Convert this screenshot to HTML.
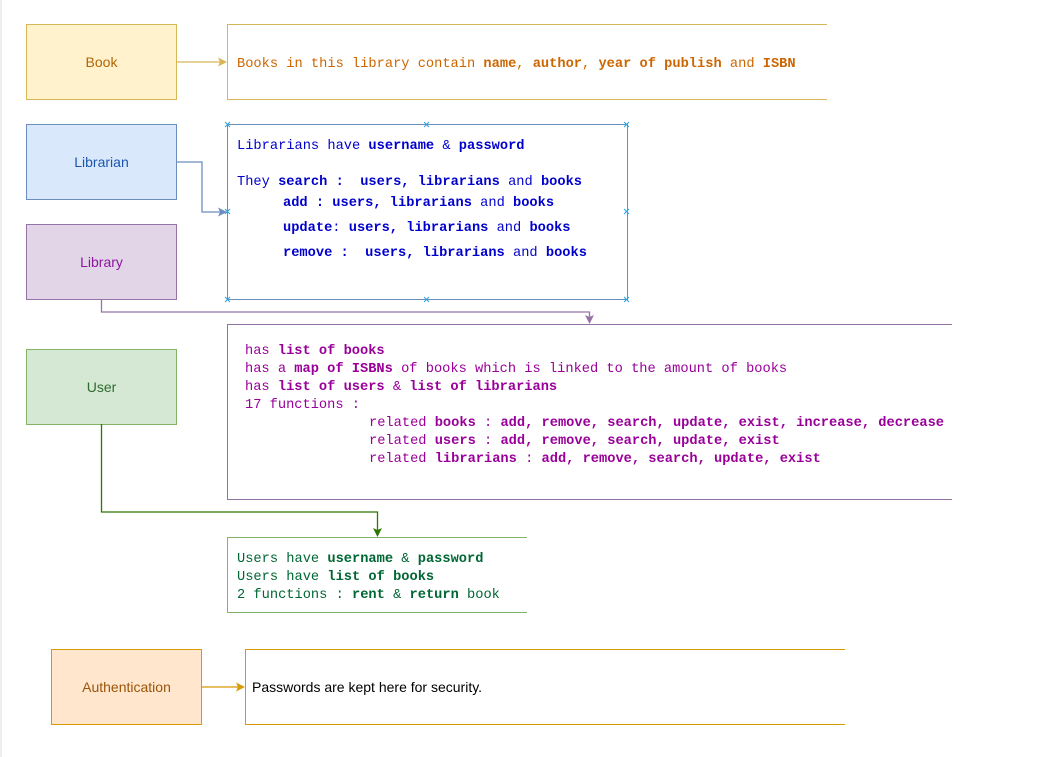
<!DOCTYPE html>
<html><head><meta charset="utf-8"><style>
html,body{margin:0;padding:0;background:#fff;}
svg{display:block}
.m{font-family:"Liberation Mono",monospace;font-size:13.7px;white-space:pre}
.b{font-weight:bold}
.s{font-family:"Liberation Sans",sans-serif;font-size:14px}
</style></head><body>
<svg width="1061" height="757" viewBox="0 0 1061 757" xmlns="http://www.w3.org/2000/svg" xml:space="preserve">
<line x1="1" y1="0" x2="1" y2="757" stroke="#dddddd" stroke-width="1"/>
<rect x="26.5" y="24.5" width="150" height="75" fill="#fff2cc" stroke="#d6b656"/>
<text x="101.5" y="67" text-anchor="middle" class="s" fill="#b46504">Book</text>
<rect x="26.5" y="124.5" width="150" height="75" fill="#dae8fc" stroke="#6c8ebf"/>
<text x="101.5" y="167" text-anchor="middle" class="s" fill="#1a56b0">Librarian</text>
<rect x="26.5" y="224.5" width="150" height="75" fill="#e1d5e7" stroke="#9673a6"/>
<text x="101.5" y="267" text-anchor="middle" class="s" fill="#8a1a9a">Library</text>
<rect x="26.5" y="349.5" width="150" height="75" fill="#d5e8d4" stroke="#82b366"/>
<text x="101.5" y="392" text-anchor="middle" class="s" fill="#2d6b2d">User</text>
<rect x="51.5" y="649.5" width="150" height="75" fill="#ffe6cc" stroke="#d79b00"/>
<text x="126.5" y="692" text-anchor="middle" class="s" fill="#99550a">Authentication</text>

<path d="M827 24.5 H227.5 V99.5 H827" fill="none" stroke="#d6b656"/>
<rect x="227.5" y="124.5" width="400" height="175" fill="none" stroke="#6c8ebf"/>
<path d="M952 324.5 H227.5 V499.5 H952" fill="none" stroke="#9673a6"/>
<path d="M527 537.5 H227.5 V612.5 H527" fill="none" stroke="#82b366"/>
<path d="M845 649.5 H245.5 V724.5 H845" fill="none" stroke="#d79b00"/>

<g stroke="#29a3e0" stroke-width="1">
<path d="M225 122l5 5M230 122l-5 5M424 122l5 5M429 122l-5 5M624 122l5 5M629 122l-5 5
M225 297l5 5M230 297l-5 5M424 297l5 5M429 297l-5 5M624 297l5 5M629 297l-5 5
M225 209l5 5M230 209l-5 5M624 209l5 5M629 209l-5 5"/>
</g>

<g fill="none" stroke-width="1.3">
<path d="M177 62 H220" stroke="#d6b656"/>
<path d="M177 162 H202 V212 H220" stroke="#6c8ebf"/>
<path d="M101.5 299 V312 H589.5 V317" stroke="#9673a6"/>
<path d="M101.5 424 V512 H377.5 V530" stroke="#2d7600"/>
<path d="M202 687 H238" stroke="#d79b00"/>
</g>
<path d="M227 62 l-9 -4.5 l2 4.5 l-2 4.5z" fill="#d6b656"/>
<path d="M227 212 l-9 -4.5 l2 4.5 l-2 4.5z" fill="#6c8ebf"/>
<path d="M589.5 324 l-4.5 -9 l4.5 2 l4.5 -2z" fill="#9673a6"/>
<path d="M377.5 537 l-4.5 -9 l4.5 2 l4.5 -2z" fill="#2d7600"/>
<path d="M245 687 l-9 -4.5 l2 4.5 l-2 4.5z" fill="#d79b00"/>

<text x="237" y="67" class="m" fill="#cc6600">Books in this library contain <tspan class="b">name</tspan>, <tspan class="b">author</tspan>, <tspan class="b">year of publish</tspan> and <tspan class="b">ISBN</tspan></text>

<g class="m" fill="#0000cc">
<text x="237" y="149">Librarians have <tspan class="b">username</tspan> &amp; <tspan class="b">password</tspan></text>
<text x="237" y="185">They <tspan class="b">search :&#160; users, librarians</tspan> and <tspan class="b">books</tspan></text>
<text x="283" y="206"><tspan class="b">add : users, librarians</tspan> and <tspan class="b">books</tspan></text>
<text x="283" y="231"><tspan class="b">update</tspan>: <tspan class="b">users, librarians</tspan> and <tspan class="b">books</tspan></text>
<text x="283" y="256"><tspan class="b">remove :&#160; users, librarians</tspan> and <tspan class="b">books</tspan></text>
</g>

<g class="m" fill="#990099">
<text x="245" y="354">has <tspan class="b">list of books</tspan></text>
<text x="245" y="372">has a <tspan class="b">map of ISBNs</tspan> of books which is linked to the amount of books</text>
<text x="245" y="390">has <tspan class="b">list of users</tspan> &amp; <tspan class="b">list of librarians</tspan></text>
<text x="245" y="408">17 functions :</text>
<text x="369" y="426">related <tspan class="b">books</tspan> : <tspan class="b">add, remove, search, update, exist, increase, decrease</tspan></text>
<text x="369" y="444">related <tspan class="b">users</tspan> : <tspan class="b">add, remove, search, update, exist</tspan></text>
<text x="369" y="462">related <tspan class="b">librarians</tspan> : <tspan class="b">add, remove, search, update, exist</tspan></text>
</g>

<g class="m" fill="#006633">
<text x="237" y="562">Users have <tspan class="b">username</tspan> &amp; <tspan class="b">password</tspan></text>
<text x="237" y="580">Users have <tspan class="b">list of books</tspan></text>
<text x="237" y="598">2 functions : <tspan class="b">rent</tspan> &amp; <tspan class="b">return</tspan> book</text>
</g>

<text x="252" y="692" class="s" fill="#000">Passwords are kept here for security.</text>
</svg>
</body></html>
